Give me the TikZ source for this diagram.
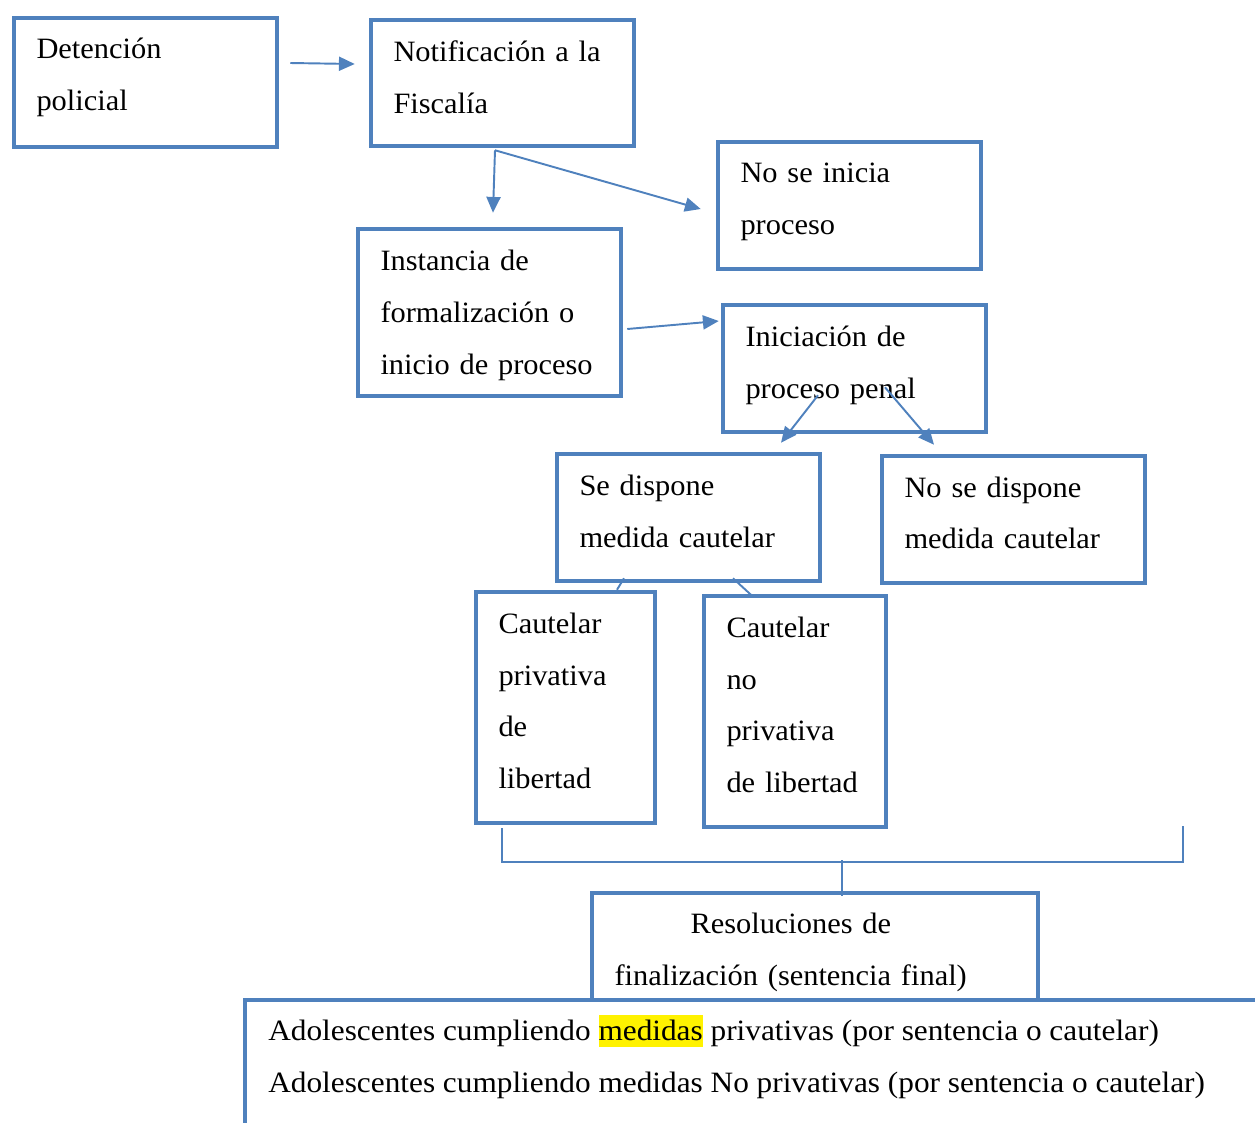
\documentclass[tikz,border=0pt]{standalone}
\usepackage{fontspec}
\setmainfont[FakeStretch=1.03]{Liberation Serif}
\newfontfamily\anchafont[FakeStretch=1.06]{Liberation Serif}
\usepackage{tikz}
\usetikzlibrary{arrows.meta,calc}
\definecolor{azulcaja}{RGB}{79,129,189}
\setlength{\fboxsep}{0pt}
\tikzset{
  caja/.style={draw=azulcaja, line width=2.6pt, align=left, inner xsep=0.45cm,
    font=\fontsize{16.8}{29.5}\selectfont},
  subir/.style={execute at end node={\par\vspace*{#1}}},
  flecha/.style={draw=azulcaja, line width=1.1pt, -{Triangle[length=9pt,width=8pt]}},
  linea/.style={draw=azulcaja, line width=1.1pt},
}

\begin{document}
\begin{tikzpicture}[x=0.02cm,y=-0.02cm]
    \useasboundingbox (0,0) rectangle (1255,1123);
    % cajas
    \node[caja, subir=5.7pt, minimum width=5.26cm, minimum height=2.58cm, text width=4.36cm] (det) at (145.5,82.5) {Detención\\policial};
    \node[caja, subir=6.8pt, minimum width=5.26cm, minimum height=2.52cm, text width=4.36cm] (notif) at (502.5,83) {Notificación a la\\Fiscalía};
    \node[caja, subir=4pt, minimum width=5.26cm, minimum height=2.54cm, text width=4.36cm] (noinicia) at (849.5,205.5) {No se inicia\\proceso};
    \node[caja, subir=-3.4pt, minimum width=5.26cm, minimum height=3.34cm, text width=4.36cm] (inst) at (489.5,312.5) {Instancia de\\formalización o\\inicio de proceso};
    \node[caja, subir=4pt, minimum width=5.26cm, minimum height=2.54cm, text width=4.36cm] (inic) at (854.5,368.5) {Iniciación de\\proceso penal};
    \node[caja, subir=6.8pt, minimum width=5.26cm, minimum height=2.54cm, text width=4.36cm] (sedis) at (688.5,517.5) {Se dispone\\medida cautelar};
    \node[caja, subir=7.5pt, minimum width=5.26cm, minimum height=2.54cm, text width=4.36cm] (nosedis) at (1013.5,519.5) {No se dispone\\medida cautelar};
    \node[caja, subir=7.5pt, minimum width=3.58cm, minimum height=4.62cm, text width=2.68cm] (cpriv) at (565.5,707.5) {Cautelar\\privativa\\de\\libertad};
    \node[caja, subir=7.5pt, minimum width=3.64cm, minimum height=4.62cm, text width=2.74cm] (cnopriv) at (795,711.5) {Cautelar\\no\\privativa\\de libertad};
    \node[caja, subir=-6.8pt, minimum width=8.92cm, minimum height=2.14cm, text width=8.02cm] (resol) at (815,946.5) {\hspace*{1.52cm}Resoluciones de\\finalización (sentencia final)};
    % caja inferior abierta
    \draw[azulcaja, line width=2.6pt] (1262,1000) -| (245,1130);
    \node[align=left, inner sep=0, anchor=west, font=\anchafont\fontsize{16.8}{29.5}\selectfont] (adol) at (268,1057)
      {Adolescentes cumpliendo \colorbox{yellow}{\rule[-3.4pt]{0pt}{18.1pt}medidas} privativas (por sentencia o cautelar)\\
       Adolescentes cumpliendo medidas No privativas (por sentencia o cautelar)};
    % flechas
    \draw[flecha] ($(det.east)+(11,-19.5)$) -- ($(notif.west)+(-14,-19)$);
    \draw[flecha] ($(notif.south)+(-7.5,2)$) -- ($(inst.north)+(3.5,-14)$);
    \draw[flecha] ($(notif.south)+(-7.5,2)$) -- ($(noinicia.west)+(-15,3.5)$);
    \draw[flecha] ($(inst.east)+(4,16.5)$) -- ($(inic.west)+(-2,-47.5)$);
    \draw[flecha] ($(inic.south)+(-36.5,-39)$) -- ($(sedis.north)+(92.5,-9)$);
    \draw[flecha] ($(inic.south)+(30.5,-47)$) -- ($(nosedis.north)+(-79.5,-9)$);
    \draw[linea] ($(sedis.south)+(-64.5,-5)$) -- ($(cpriv.north)+(51.5,0)$);
    \draw[linea] ($(sedis.south)+(44.5,-5)$) -- ($(cnopriv.north)+(-43,2)$);
    % llave hacia resoluciones
    \coordinate (llave) at (1183,826);
    \draw[linea] ($(cpriv.south)+(-63.5,3)$) |- (842,862) -| (llave);
    \draw[linea] ($(resol.north)+(27,5)$) -- ++(0,-36);
\end{tikzpicture}
\end{document}
